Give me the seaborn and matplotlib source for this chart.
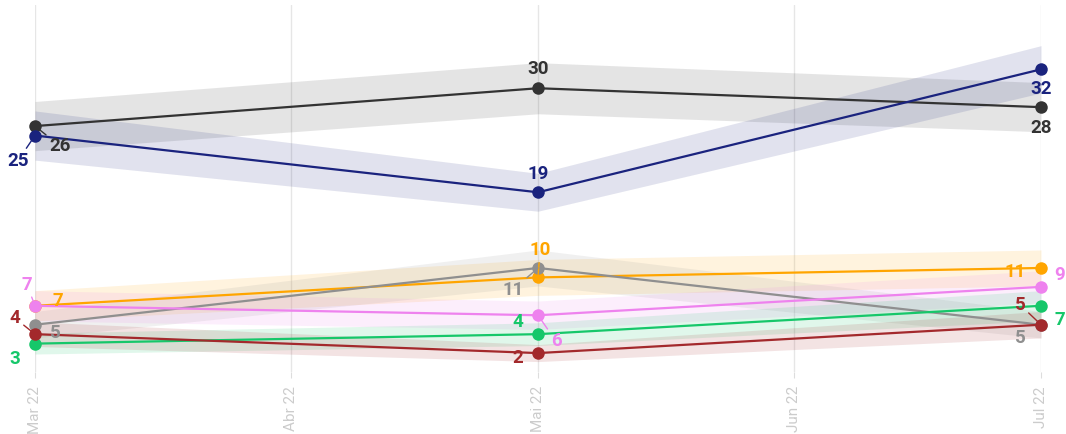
import matplotlib
matplotlib.use("Agg")
import matplotlib.pyplot as plt
import seaborn as sns
import pandas as pd
import numpy as np

# dados (pesquisa, % por partido)
datas = ["2022-03-01", "2022-05-01", "2022-07-01"]
meses = ["2022-03-01", "2022-04-01", "2022-05-01", "2022-06-01", "2022-07-01"]
rotulos_meses = ["Mar 22", "Abr 22", "Mai 22", "Jun 22", "Jul 22"]

preto = [26, 30, 28]
azul = [25, 19, 32]
laranja = [7, 10, 11]
cinza = [5, 11, 5]
violeta = [7, 6, 9]
verde = [3, 4, 7]
vermelho = [4, 2, 5]

# margem de erro aproximada (+/-)
margem_preto = [2.6, 2.7, 2.6]
margem_azul = [2.6, 2.0, 2.5]
margem_laranja = [1.6, 1.9, 1.9]
margem_cinza = [1.4, 1.9, 1.4]
margem_violeta = [1.6, 1.5, 1.7]
margem_verde = [1.1, 1.2, 1.6]
margem_vermelho = [1.3, 0.9, 1.4]

series = [
    ("preto", preto, margem_preto, "#333333"),
    ("azul", azul, margem_azul, "#1a237e"),
    ("laranja", laranja, margem_laranja, "#ffa500"),
    ("cinza", cinza, margem_cinza, "#8f8f8f"),
    ("violeta", violeta, margem_violeta, "#ee82ee"),
    ("verde", verde, margem_verde, "#16c76a"),
    ("vermelho", vermelho, margem_vermelho, "#a3292c"),
]

# deslocamento dos rótulos (pixels) e se tem linha guia
rotulos = {
    "preto": [((25, -20), True), ((0, 19), False), ((0, -21), False)],
    "azul": [((-17, -25), True), ((0, 18), False), ((0, -20), False)],
    "laranja": [((23, 5), False), ((2, 27), True), ((-26, -4), False)],
    "cinza": [((20, -8), False), ((-25, -22), True), ((-21, -13), False)],
    "violeta": [((-8, 21), True), ((18, -26), True), ((19, 12), False)],
    "verde": [((-20, -15), False), ((-20, 12), False), ((19, -14), False)],
    "vermelho": [((-20, 16), True), ((-20, -5), False), ((-21, 20), True)],
}

linhas = []
for nome, vals, marg, cor in series:
    for d, v in zip(datas, vals):
        linhas.append({"data": pd.Timestamp(d), "valor": v, "serie": nome})
df = pd.DataFrame(linhas)

sns.set_style("white")
plt.rcParams["font.family"] = ["Roboto", "DejaVu Sans"]

fig = plt.figure(figsize=(10.66, 4.34), dpi=100)
ax = fig.add_axes([35 / 1066, 62 / 434, 1006 / 1066, 367 / 434])

x = pd.to_datetime(datas)
for nome, vals, marg, cor in series:
    v = np.array(vals, dtype=float)
    m = np.array(marg)
    ax.fill_between(x, v - m, v + m, color=cor, alpha=0.13, linewidth=0, zorder=1)

paleta = {nome: cor for nome, _, _, cor in series}
sns.lineplot(data=df, x="data", y="valor", hue="serie", palette=paleta,
             marker="o", markersize=9, markeredgewidth=0, linewidth=1.6,
             legend=False, ax=ax, zorder=3, clip_on=False)

for nome, vals, marg, cor in series:
    for d, v, (off, guia) in zip(x, vals, rotulos[nome]):
        props = dict(arrowstyle="-", color=cor, lw=1.0, shrinkA=0, shrinkB=0) if guia else None
        ax.annotate(str(v), xy=(d, v), xytext=off, textcoords="offset pixels",
                    ha="center", va="center", fontsize=13.5, fontweight="bold",
                    color=cor, arrowprops=props, zorder=5, annotation_clip=False)

ax.set_ylim(0, 38.8)
ax.set_xlim(pd.Timestamp(meses[0]), pd.Timestamp(meses[-1]))
ax.set_xticks(pd.to_datetime(meses))
ax.set_xticklabels(rotulos_meses, rotation=90, color="#cccccc", fontsize=11)
ax.set_yticks([])
ax.set_xlabel("")
ax.set_ylabel("")
ax.grid(axis="x", color="#e6e6e6", linewidth=1)
ax.tick_params(axis="x", length=4, color="#dddddd", bottom=True, pad=6)
for s in ax.spines.values():
    s.set_visible(False)

fig.savefig("out.png", dpi=100)
